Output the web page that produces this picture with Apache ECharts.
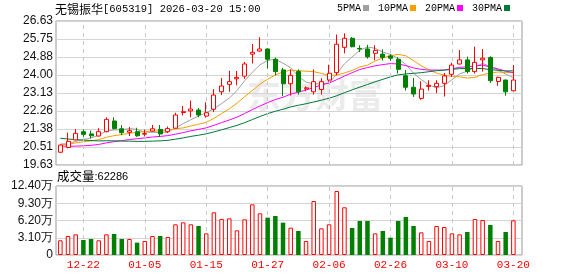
<!DOCTYPE html>
<html><head><meta charset="utf-8">
<script src="https://cdn.jsdelivr.net/npm/echarts@6/dist/echarts.min.js"></script>
<style>html,body{margin:0;padding:0;background:#fff}#c{width:578px;height:276px}</style>
</head><body><div id="c"></div>
<script>
const dates = ['12-17','12-18','12-19','12-22','12-23','12-24','12-25','12-26','12-29','12-30','12-31',
'01-05','01-06','01-07','01-08','01-09','01-12','01-13','01-14','01-15','01-16','01-19','01-20','01-21','01-22','01-23','01-26','01-27','01-28','01-29','01-30',
'02-02','02-03','02-04','02-05','02-06','02-09','02-10','02-11','02-12','02-13','02-24','02-25','02-26','02-27',
'03-02','03-03','03-04','03-05','03-06','03-09','03-10','03-11','03-12','03-13','03-16','03-17','03-18','03-19','03-20'];
const opens  = [20.25,20.48,20.85,21.25,21.14,21.04,21.25,21.77,21.39,21.22,21.25,21.13,21.28,21.36,21.25,21.42,22.18,22.26,22.30,22.01,
22.34,23.19,23.55,23.82,23.95,25.02,25.17,25.27,24.77,24.25,23.58,24.17,23.33,23.19,23.30,23.76,24.12,25.35,25.79,25.30,
25.27,25.06,25.02,24.93,24.77,23.97,23.41,22.87,23.45,23.44,23.60,24.04,24.54,24.74,24.17,24.74,24.85,23.69,23.76,23.24];
const closes = [20.60,20.78,21.17,21.12,21.05,21.25,21.85,21.40,21.20,21.30,21.05,21.16,21.39,21.14,21.40,22.06,22.22,22.35,22.06,22.17,
23.03,23.47,23.68,23.89,24.54,25.11,25.27,24.77,24.17,23.58,23.99,23.19,23.38,23.68,23.68,24.09,25.50,25.79,25.38,25.27,
24.89,25.20,24.86,24.82,24.28,23.41,23.08,23.32,23.50,23.60,23.96,24.49,24.74,24.17,24.62,24.82,23.73,23.89,23.19,23.76];
const lows   = [20.22,20.44,20.83,21.00,20.92,21.02,21.22,21.36,21.08,21.04,21.00,21.02,21.25,21.00,21.18,21.40,22.04,21.95,21.95,21.93,
22.20,23.03,23.19,23.50,23.82,24.57,25.14,24.32,23.99,22.98,23.00,23.05,23.22,23.05,23.05,23.68,23.99,25.06,25.35,25.12,
24.80,24.72,24.71,24.70,24.08,23.25,22.94,22.80,23.25,23.12,22.96,23.92,24.52,24.08,24.08,24.17,23.62,23.48,23.00,23.22];
const highs  = [20.62,21.20,21.38,21.36,21.30,21.42,21.95,21.95,21.57,21.48,21.44,21.35,21.58,21.57,21.50,22.17,22.50,22.76,22.40,22.68,
23.32,23.86,24.21,24.20,24.64,25.51,25.84,25.30,24.85,24.35,24.28,24.28,23.45,24.28,23.85,24.50,25.97,26.03,25.85,25.45,
25.47,25.45,25.25,25.02,24.87,24.25,23.86,23.70,23.75,23.75,24.10,24.60,25.22,24.90,25.38,25.27,24.92,23.92,23.78,24.49];
const volumes = [26400,34100,37100,27000,28800,26400,37100,37700,28800,28800,22200,25200,34100,34100,32300,55100,58700,55100,52100,38900,
76700,64700,65900,44300,64100,91000,74900,67100,70100,58100,49100,43100,25200,97000,47900,55100,115000,85700,48500,61100,
61100,38900,43100,31100,61100,68300,52100,40700,25200,52100,50300,38900,37100,41300,64700,62900,53900,25200,41300,62286];
const priorCloses = [21.90,22.00,21.85,21.80,21.70,21.60,21.55,21.50,21.45,21.35,
21.20,21.00,20.80,20.60,20.40,20.30,20.20,20.30,20.20,20.20,
20.40,20.50,20.60,20.60,20.65,20.70,20.60,20.70,20.65];
const priceTicks = ['19.63','20.51','21.38','22.26','23.13','24.00','24.88','25.75','26.63'];
const volumeTicks = ['0','3.10万','6.20万','9.30万','12.40万'];
const labelDates = ['12-22','01-05','01-15','01-27','02-06','02-26','03-10','03-20'];
const maPeriods = [5,10,20,30];
const maNames = ['5PMA','10PMA','20PMA','30PMA'];
const maColors = ['#a0a0a0','#f5a000','#ff00ff','#007a3a'];

const PMIN = 19.63, PMAX = 26.63, PSTEP = 0.875;
const VMAX = 124000, VSTEP = 31000;
const UP = '#ff0000', DOWN = '#008000';

const allCloses = priorCloses.concat(closes);
function movingAvg(n){
  return closes.map((_, i) => {
    const j = i + priorCloses.length; let s = 0;
    for (let k = j - n + 1; k <= j; k++) s += allCloses[k];
    return +(s / n).toFixed(3);
  });
}
const candleData = dates.map((d, i) => [opens[i], closes[i], lows[i], highs[i]]);
const volData = volumes.map((v, i) => {
  const up = closes[i] >= opens[i];
  return { value: v, itemStyle: up ? { color: '#fff', borderColor: UP, borderWidth: 1 } : { color: DOWN, borderColor: DOWN, borderWidth: 0 } };
});
const vlines = labelDates.map(d => ({ xAxis: d }));
const markLineStyle = { symbol: 'none', silent: true, label: { show: false }, lineStyle: { color: '#c8c8c8', type: [4, 4], width: 1 }, data: vlines, animation: false };

const chart = echarts.init(document.getElementById('c'), null, { renderer: 'canvas' });
const frameX = 56, frameW = 466, dataX = 56.5, dataW = 460.7;
chart.setOption({
  animation: false,
  backgroundColor: '#fff',
  title: [
    { left: 55, top: 2, padding: 0, text: '{a|无锡振华}{b|[605319] 2026-03-20 15:00}',
      textStyle: { fontWeight: 'normal', rich: { a: { fontFamily: 'Noto Sans CJK SC', fontWeight: 'normal', fontSize: 12, color: '#000', lineHeight: 14 }, b: { fontFamily: 'Liberation Mono', fontWeight: 'normal', fontSize: 10.5, color: '#000', lineHeight: 14 } } } },
    { left: 57, top: 169, padding: 0, text: '{a|成交量}{b|:' + volumes[volumes.length - 1] + '}',
      textStyle: { fontWeight: 'normal', rich: { a: { fontFamily: 'Noto Sans CJK SC', fontWeight: 'normal', fontSize: 12.5, color: '#000', lineHeight: 15 }, b: { fontFamily: 'Liberation Sans', fontWeight: 'normal', fontSize: 11, color: '#000', lineHeight: 15 } } } }
  ],
  legend: {
    left: 337, top: 3, padding: 0, align: 'right', itemWidth: 6, itemHeight: 6, itemGap: 9,
    textStyle: { fontFamily: 'Liberation Mono', fontSize: 10, color: '#000', padding: [0, -3, 0, 0] },
    data: maNames.map(n => ({ name: n, icon: 'rect' }))
  },
  graphic: [
    { type: 'text', left: 247, top: 78, z: -1, silent: true,
      style: { text: '东方财富', fill: '#ebebeb', font: 'bold 34px "Noto Sans CJK SC"' } }
  ],
  grid: [
    { left: frameX, top: 21, width: frameW, height: 144, show: true, borderColor: '#999', borderWidth: 1, backgroundColor: 'transparent' },
    { left: dataX, top: 21, width: dataW, height: 144 },
    { left: frameX, top: 186, width: frameW, height: 69, show: true, borderColor: '#999', borderWidth: 1, backgroundColor: 'transparent' },
    { left: dataX, top: 186, width: dataW, height: 69 }
  ],
  xAxis: [
    { gridIndex: 0, type: 'value', min: 0, max: 1, show: false },
    { gridIndex: 1, type: 'category', data: dates, boundaryGap: true, axisLine: { show: false }, axisTick: { show: false }, axisLabel: { show: false }, splitLine: { show: false } },
    { gridIndex: 2, type: 'value', min: 0, max: 1, show: false },
    { gridIndex: 3, type: 'category', data: dates, boundaryGap: true, axisLine: { show: false }, axisTick: { show: false }, splitLine: { show: false },
      axisLabel: { interval: (i, v) => labelDates.indexOf(v) >= 0, color: '#ff0000', fontFamily: 'Liberation Mono', fontSize: 11, margin: 5 } }
  ],
  yAxis: [
    { gridIndex: 0, type: 'value', min: PMIN, max: PMAX, interval: PSTEP, axisLine: { show: false }, axisTick: { show: false },
      splitLine: { show: true, lineStyle: { color: '#d4d4d4', width: 1 } },
      axisLabel: { margin: 3, color: '#111', fontFamily: 'Liberation Sans', fontSize: 12,
        formatter: v => priceTicks[Math.round((v - PMIN) / PSTEP)] } },
    { gridIndex: 1, type: 'value', min: PMIN, max: PMAX, show: false },
    { gridIndex: 2, type: 'value', min: 0, max: VMAX, interval: VSTEP, axisLine: { show: false }, axisTick: { show: false },
      splitLine: { show: true, lineStyle: { color: '#d4d4d4', width: 1 } },
      axisLabel: { margin: 3, color: '#111', fontFamily: 'Liberation Sans', fontSize: 12,
        formatter: v => volumeTicks[Math.round(v / VSTEP)] } },
    { gridIndex: 3, type: 'value', min: 0, max: VMAX, show: false }
  ],
  series: [
    { type: 'line', xAxisIndex: 1, yAxisIndex: 1, data: [], z: 1, markLine: markLineStyle },
    { type: 'line', xAxisIndex: 3, yAxisIndex: 3, data: [], z: 1, markLine: markLineStyle },
    { name: 'K', type: 'candlestick', xAxisIndex: 1, yAxisIndex: 1, data: candleData, barWidth: 4.5, z: 5,
      itemStyle: { color: '#fff', color0: DOWN, borderColor: UP, borderColor0: DOWN, borderWidth: 1 } },
    ...maPeriods.map((p, k) => ({
      name: maNames[k], type: 'line', xAxisIndex: 1, yAxisIndex: 1, data: movingAvg(p), showSymbol: false, symbol: 'none',
      lineStyle: { color: maColors[k], width: 1 }, itemStyle: { color: maColors[k] }, z: 4
    })),
    { name: 'VOL', type: 'bar', xAxisIndex: 3, yAxisIndex: 3, data: volData, barWidth: 4.5, z: 5 }
  ]
});
</script>
</body></html>
